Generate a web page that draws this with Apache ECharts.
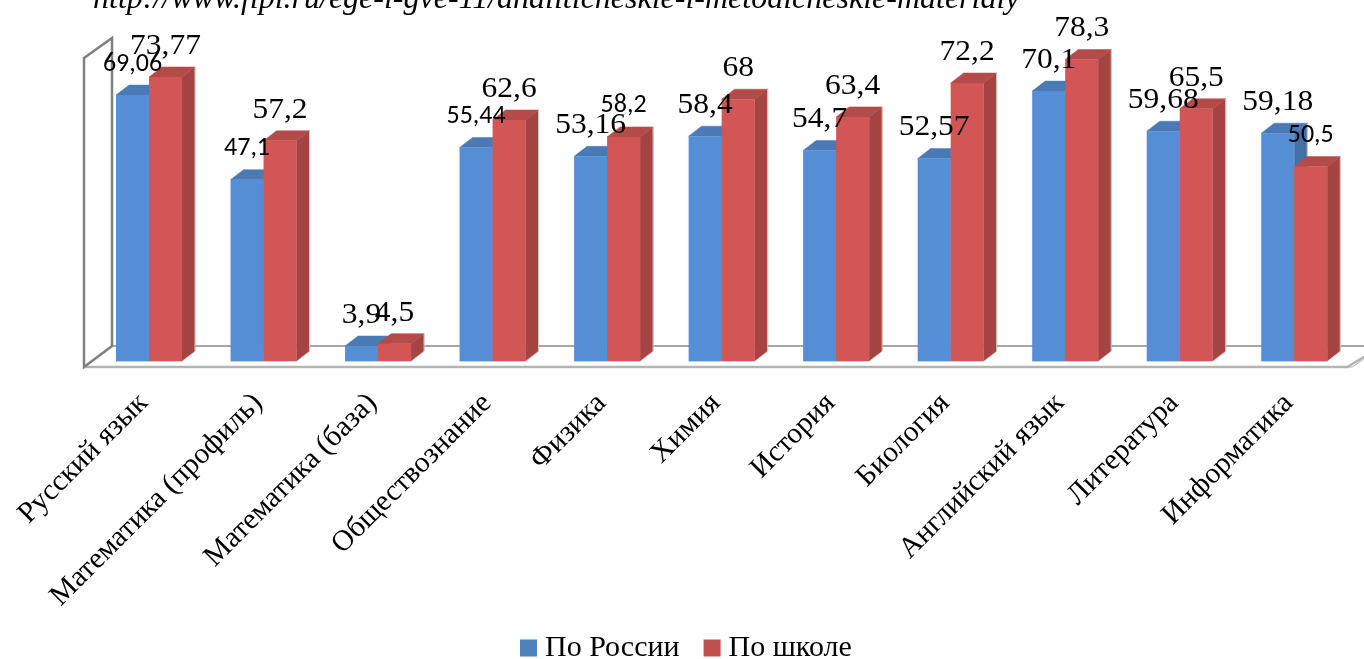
<!DOCTYPE html>
<html><head><meta charset="utf-8">
<style>html,body{margin:0;padding:0;background:#fff;overflow:hidden}#c{width:1364px;height:659px}</style>
<script src="https://cdn.jsdelivr.net/npm/echarts@6/dist/echarts.min.js"></script>
</head><body><div id="c"></div>
<script>
var categories = ['Русский язык','Математика (профиль)','Математика (база)','Обществознание','Физика','Химия','История','Биология','Английский язык','Литература','Информатика'];
var russiaValues = [69.06,47.1,3.9,55.44,53.16,58.4,54.7,52.57,70.1,59.68,59.18];
var schoolValues = [73.77,57.2,4.5,62.6,58.2,68,63.4,72.2,78.3,65.5,50.5];
var russiaLabels = ['69,06','47,1','3,9','55,44','53,16','58,4','54,7','52,57','70,1','59,68','59,18'];
var schoolLabels = ['73,77','57,2','4,5','62,6','58,2','68','63,4','72,2','78,3','65,5','50,5'];
var russiaSans = [1,1,0,1,0,0,0,0,0,0,0];
var schoolSans = [0,0,0,0,1,0,0,0,0,0,1];
var titleText = 'http://www.fipi.ru/ege-i-gve-11/analiticheskie-i-metodicheskie-materialy';

var SERIF = 'Liberation Serif, Times New Roman, serif';
var SANS = 'Carlito, Open Sans, Liberation Sans, sans-serif';
var DX = 13, DY = 10, BAR = 33;
function poly(pts, fill, stroke){
  return {type:'polygon',shape:{points:pts},style:{fill:fill,stroke:stroke||fill,lineWidth:stroke?1:0.5}};
}
function barRender(side, colors){
  return function(params, api){
    var i = api.value(0), v = api.value(1);
    var top = api.coord([i, v]), base = api.coord([i, 0]);
    var x0 = top[0] + (side < 0 ? -BAR : 0), x1 = x0 + BAR, y0 = top[1], y1 = base[1];
    return {type:'group',children:[
      poly([[x1,y0],[x1+DX,y0-DY],[x1+DX,y1-DY],[x1,y1]], colors[2]),
      poly([[x0,y0],[x0+DX,y0-DY],[x1+DX,y0-DY],[x1,y0]], colors[1]),
      {type:'polyline',shape:{points:[[x0,y1+0.5],[x1,y1+0.5],[x1+DX,y1-DY+0.5],[x1+DX,y0-DY]]},style:{fill:null,stroke:'#cfcfcf',lineWidth:1}},
      {type:'rect',shape:{x:x0,y:y0,width:BAR,height:y1-y0},style:{fill:colors[0]}}
    ]};
  };
}
function labelRender(side, texts, sans){
  return function(params, api){
    var i = api.value(0), v = api.value(1);
    var p = api.coord([i, v]);
    var s = sans[i];
    return {type:'text',x:p[0]+side*16.5,y:p[1]-31,scaleX:s?1:1.05,style:{
      text:texts[i],align:'center',verticalAlign:'middle',fill:'#000',
      font:(s?'26px ':'30px ')+(s?SANS:SERIF)}};
  };
}
function frameRender(params, api){
  var a = api.coord([0,0]), t = api.coord([0,80]), r = api.coord([10,0]);
  var xl = a[0]-65, yb = a[1], yt = t[1];
  var fx = xl, bx = xl+28, fy = yb+6, by = yb-15;
  var xr = r[0]+58;
  return {type:'group',children:[
    poly([[bx,by],[xr+30,by],[xr,fy],[fx,fy]],'#fff','#b0b0b0'),
    {type:'polyline',shape:{points:[[bx,by],[xr+30,by]]},style:{fill:null,stroke:'#a6a6a6',lineWidth:2}},
    {type:'polyline',shape:{points:[[fx,fy],[xr-5,fy],[xr+28,by+1]]},style:{fill:null,stroke:'#b4b4b4',lineWidth:2.5}},
    {type:'polygon',shape:{points:[[fx,yt+5],[bx,yt-15],[bx,by],[fx,fy]]},style:{fill:'#fff',stroke:'#808080',lineWidth:2.5}}
  ]};
}
var russiaColors = ['#558ed5','#4a7ab6','#4570a5'];
var schoolColors = ['#d25656','#b44b48','#a54442'];
function pairs(vals){return vals.map(function(v,i){return [i,v];});}
var chart = echarts.init(document.getElementById('c'), null, {renderer:'canvas'});
chart.setOption({
  animation:false,
  backgroundColor:'#fff',
  title:{text:titleText,left:88,top:-21,textStyle:{fontFamily:SERIF,fontStyle:'italic',fontWeight:'normal',fontSize:32,color:'#000'}},
  grid:{left:91.75,right:12.5,top:53,bottom:298,containLabel:false},
  legend:{data:['По России','По школе'],top:628,left:515,itemWidth:17,itemHeight:17,itemGap:24,icon:'rect',
    textStyle:{fontFamily:SERIF,fontSize:30,color:'#000',padding:[0,0,0,3]}},
  xAxis:{type:'category',data:categories,axisLine:{show:false},axisTick:{show:false},
    axisLabel:{rotate:45,interval:0,margin:32,padding:[0,8,0,0],fontFamily:SERIF,fontSize:29.5,color:'#000'}},
  yAxis:{type:'value',min:0,max:80,interval:20,show:false},
  series:[
    {type:'custom',name:'frame',z:1,silent:true,renderItem:frameRender,data:[[0]],encode:{x:0}},
    {type:'custom',name:'По России',z:2,renderItem:barRender(-1,russiaColors),data:pairs(russiaValues),encode:{x:0,y:1},itemStyle:{color:'#4f81bd'}},
    {type:'custom',name:'По школе',z:3,renderItem:barRender(1,schoolColors),data:pairs(schoolValues),encode:{x:0,y:1},itemStyle:{color:'#c0504d'}},
    {type:'custom',name:'l1',z:4,silent:true,renderItem:labelRender(-1,russiaLabels,russiaSans),data:pairs(russiaValues),encode:{x:0,y:1}},
    {type:'custom',name:'l2',z:5,silent:true,renderItem:labelRender(1,schoolLabels,schoolSans),data:pairs(schoolValues),encode:{x:0,y:1}}
  ]
});
</script></body></html>
